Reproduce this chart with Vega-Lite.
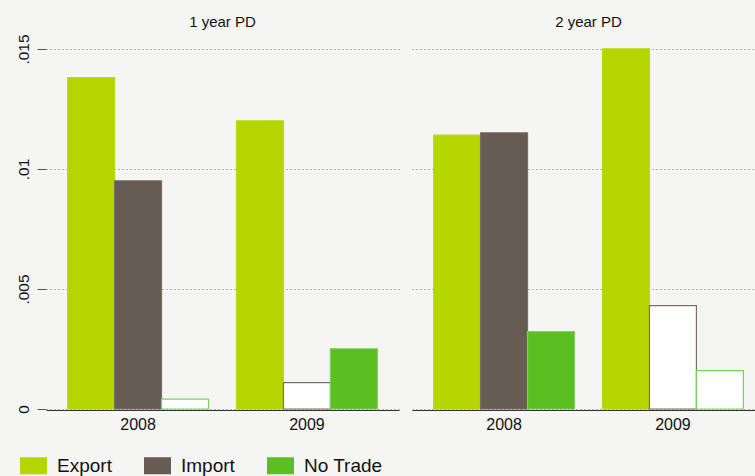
{
  "$schema": "https://vega.github.io/schema/vega-lite/v6.json",
  "background": "#f5f5f3",
  "padding": {"left": 15, "top": 15, "right": 0, "bottom": 0},
  "data": {"values": [
    {"panel": "1 year PD", "year": "2008", "series": "Export", "value": 0.01381, "sig": 1},
    {"panel": "1 year PD", "year": "2008", "series": "Import", "value": 0.00951, "sig": 1},
    {"panel": "1 year PD", "year": "2008", "series": "No Trade", "value": 0.00041, "sig": 0},
    {"panel": "1 year PD", "year": "2009", "series": "Export", "value": 0.01201, "sig": 1},
    {"panel": "1 year PD", "year": "2009", "series": "Import", "value": 0.0011, "sig": 0},
    {"panel": "1 year PD", "year": "2009", "series": "No Trade", "value": 0.00251, "sig": 1},
    {"panel": "2 year PD", "year": "2008", "series": "Export", "value": 0.01141, "sig": 1},
    {"panel": "2 year PD", "year": "2008", "series": "Import", "value": 0.01151, "sig": 1},
    {"panel": "2 year PD", "year": "2008", "series": "No Trade", "value": 0.00322, "sig": 1},
    {"panel": "2 year PD", "year": "2009", "series": "Export", "value": 0.01501, "sig": 1},
    {"panel": "2 year PD", "year": "2009", "series": "Import", "value": 0.00431, "sig": 0},
    {"panel": "2 year PD", "year": "2009", "series": "No Trade", "value": 0.0016, "sig": 0}
  ]},
  "facet": {
    "column": {
      "field": "panel", "type": "nominal",
      "header": {"title": null, "labelFontSize": 15, "labelFont": "Liberation Sans", "labelColor": "#111", "labelPadding": 18}
    }
  },
  "spacing": 13,
  "spec": {
    "width": 353,
    "height": 360,
    "mark": {"type": "bar", "strokeWidth": 1.2},
    "encoding": {
      "x": {
        "field": "year", "type": "nominal",
        "scale": {"paddingInner": 0.166, "paddingOuter": 0.128},
        "axis": {"title": null, "labelAngle": 0, "ticks": false, "labelPadding": 6, "labelFontSize": 16, "labelFont": "Liberation Sans", "labelColor": "#111", "domainColor": "#333", "domainWidth": 1, "grid": false}
      },
      "xOffset": {"field": "series", "type": "nominal", "sort": ["Export", "Import", "No Trade"], "scale": {"paddingInner": 0, "paddingOuter": 0}},
      "y": {
        "field": "value", "type": "quantitative",
        "scale": {"domain": [0, 0.015], "nice": false, "zero": true},
        "axis": {"title": null, "values": [0, 0.005, 0.01, 0.015], "labelExpr": "datum.value == 0 ? '0' : slice(format(datum.value, '~g'), 1)", "labelAngle": -90, "labelAlign": "center", "labelBaseline": "bottom", "labelPadding": 6, "labelFontSize": 15.5, "labelFont": "Liberation Sans", "labelColor": "#111", "tickSize": 9, "tickColor": "#555", "domain": false, "grid": true, "gridDash": [1, 3], "gridColor": "#777", "gridWidth": 1}
      },
      "fill": {
        "condition": {
          "test": "datum.sig == 1",
          "field": "series", "type": "nominal",
          "scale": {"domain": ["Export", "Import", "No Trade"], "range": ["#b5d600", "#675c53", "#5bbf22"]},
          "legend": {"title": null, "orient": "none", "legendX": -22, "legendY": 407, "direction": "horizontal", "symbolType": "M-1.588,-1H1.588V1H-1.588Z", "symbolSize": 289, "symbolStrokeWidth": 0, "symbolOpacity": 1, "labelFontSize": 19, "labelFont": "Liberation Sans", "labelColor": "#111", "labelOffset": 14, "columnPadding": 32, "padding": 0}
        },
        "value": "#ffffff"
      },
      "stroke": {
        "field": "series", "type": "nominal",
        "scale": {"domain": ["Export", "Import", "No Trade"], "range": ["#b9d91a", "#7a6f66", "#7ccf58"]},
        "legend": null
      }
    }
  },
  "config": {
    "view": {"stroke": null},
    "font": "Liberation Sans"
  }
}
